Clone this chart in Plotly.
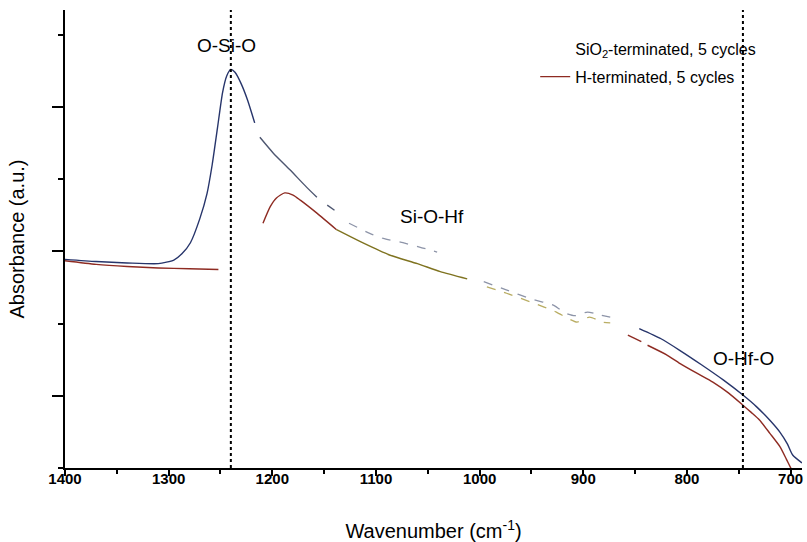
import plotly.graph_objects as go

# ---- data (wavenumber in cm-1, absorbance in a.u.) ----
# SiO2-terminated, 5 cycles
sio2_wn_a = [1400, 1370, 1340, 1310, 1295, 1287, 1279, 1270, 1263, 1258, 1253, 1248, 1244, 1240, 1236, 1230, 1224, 1217]
sio2_ab_a = [2.89, 2.86, 2.84, 2.83, 2.88, 2.97, 3.12, 3.45, 3.80, 4.20, 4.70, 5.20, 5.43, 5.52, 5.48, 5.32, 5.10, 4.78]
sio2_wn_b = [1212, 1199, 1183, 1167, 1157, None, 1147, 1140]
sio2_ab_b = [4.58, 4.36, 4.13, 3.89, 3.75, None, 3.64, 3.57]
sio2_wn_c = [1126, 1106, 1093, 1074, 1058, 1041, None, 996, 975, 950, 928, 918, 908, 896, 884, 874]
sio2_ab_c = [3.39, 3.25, 3.18, 3.12, 3.06, 2.99, None, 2.58, 2.47, 2.34, 2.25, 2.15, 2.11, 2.16, 2.12, 2.09]
sio2_wn_d = [846, 825, 807, 786, 765, 746, 733, 720, 710, 703, 698, 689]
sio2_ab_d = [1.93, 1.79, 1.63, 1.43, 1.22, 1.01, 0.85, 0.66, 0.49, 0.33, 0.18, 0.07]

# H-terminated, 5 cycles
h_wn_a = [1400, 1370, 1340, 1310, 1280, 1252]
h_ab_a = [2.87, 2.82, 2.79, 2.77, 2.76, 2.75]
h_wn_b = [1209, 1202, 1196, 1188, 1180, 1173, 1157, 1138]
h_ab_b = [3.39, 3.62, 3.74, 3.81, 3.78, 3.71, 3.53, 3.30]
h_wn_c = [1138, 1113, 1087, 1060, 1038, 1012]
h_ab_c = [3.30, 3.12, 2.95, 2.83, 2.72, 2.62]
h_wn_d = [993, 974, 949, 926, 916, 906, 894, 881, 874]
h_ab_d = [2.51, 2.42, 2.29, 2.16, 2.08, 2.02, 2.09, 2.02, 2.01]
h_wn_e = [857, 844, None, 838, 820, 807, 790, 775, 760, 746, 738, 730, 720, 710, 704, 698, 689]
h_ab_e = [1.84, 1.75, None, 1.70, 1.57, 1.45, 1.31, 1.19, 1.04, 0.87, 0.77, 0.665, 0.48, 0.29, 0.12, -0.05, -0.25]

peak_positions = [1240, 746]
peak_labels = ["O-Si-O", "Si-O-Hf", "O-Hf-O"]
label_wn = [1244, 1046, 745]
label_ab = [5.85, 3.49, 1.52]

x_range = [1400, 689]
y_range = [0, 6.343]

BLUE = "#27356b"
BLUE_FADED = "#8d94a8"
RED = "#8e2b22"
OLIVE = "#7f7320"
OLIVE_FADED = "#b9ad63"
FONT = "Liberation Sans, Arial, sans-serif"

fig = go.Figure()


def add_seg(x, y, color, width=1.4, dash="solid", group="a"):
    fig.add_trace(go.Scatter(
        x=x, y=y, mode="lines",
        line=dict(color=color, width=width, dash=dash, shape="spline", smoothing=0.6),
        connectgaps=False, showlegend=False, legendgroup=group,
        hoverinfo="skip"
    ))


# legend entries (first one has no visible line sample in the original)
fig.add_trace(go.Scatter(x=[None], y=[None], mode="lines",
                         line=dict(color="rgba(0,0,0,0)", width=1),
                         name="SiO<sub>2</sub>-terminated, 5 cycles", legendgroup="a"))
fig.add_trace(go.Scatter(x=[None], y=[None], mode="lines",
                         line=dict(color=RED, width=1.2),
                         name="H-terminated, 5 cycles", legendgroup="b"))

# H-terminated
add_seg(h_wn_a, h_ab_a, RED, group="b")
add_seg(h_wn_b, h_ab_b, RED, group="b")
add_seg(h_wn_c, h_ab_c, OLIVE, group="b")
add_seg(h_wn_d, h_ab_d, OLIVE_FADED, 1.3, "dash", group="b")
add_seg(h_wn_e, h_ab_e, RED, group="b")

# SiO2-terminated
add_seg(sio2_wn_a, sio2_ab_a, BLUE)
add_seg(sio2_wn_b, sio2_ab_b, "#4d5670")
add_seg(sio2_wn_c, sio2_ab_c, BLUE_FADED, 1.3, "dash")
add_seg(sio2_wn_d, sio2_ab_d, BLUE)

# dotted peak markers
for p in peak_positions:
    fig.add_vline(x=p, line=dict(color="black", width=2, dash="dot"))

for txt, xw, ya in zip(peak_labels, label_wn, label_ab):
    fig.add_annotation(x=xw, y=ya, text=txt, showarrow=False,
                       font=dict(family=FONT, size=19, color="black"))

fig.update_layout(
    width=807, height=542,
    margin=dict(l=65, r=5, t=10, b=74),
    plot_bgcolor="white", paper_bgcolor="white",
    legend=dict(x=0.638, y=0.952, xanchor="left", yanchor="top",
                font=dict(family=FONT, size=16, color="black"),
                traceorder="grouped", tracegroupgap=4,
                bgcolor="rgba(0,0,0,0)"),
    xaxis=dict(
        range=x_range, tickmode="linear", tick0=0, dtick=100, automargin=False,
        ticks="outside", ticklen=6, tickwidth=2, tickcolor="black",
        minor=dict(dtick=50, ticklen=4, tickwidth=2, ticks="outside", tickcolor="black"),
        showline=True, linewidth=2, linecolor="black",
        showgrid=False, zeroline=False,
        ticklabelstandoff=-10,
        tickfont=dict(family=FONT, size=15, color="black", weight="bold"),
        title=dict(text="Wavenumber (cm<sup>-1</sup>)",
                   font=dict(family=FONT, size=20, color="black"), standoff=38),
    ),
    xaxis2=dict(
        range=x_range, overlaying="x", side="top", anchor="y", automargin=False,
        tickmode="linear", tick0=1400, dtick=141.8,
        ticks="inside", ticklen=7, tickwidth=2, tickcolor="black",
        minor=dict(dtick=70.9, ticklen=4, tickwidth=2, ticks="inside", tickcolor="black"),
        showline=True, linewidth=2, linecolor="black",
        showgrid=False, zeroline=False, showticklabels=False,
    ),
    yaxis=dict(
        range=y_range, tickmode="linear", tick0=1, dtick=2, automargin=False,
        ticks="outside", ticklen=11, tickwidth=2, tickcolor="black",
        minor=dict(tick0=0, dtick=1, ticklen=5, tickwidth=2, ticks="outside", tickcolor="black"),
        showline=True, linewidth=2, linecolor="black",
        showgrid=False, zeroline=False, showticklabels=False,
        title=dict(text="Absorbance (a.u.)",
                   font=dict(family=FONT, size=20, color="black"), standoff=22),
    ),
    yaxis2=dict(
        range=y_range, overlaying="y", side="right", anchor="x", automargin=False,
        tickmode="linear", tick0=0.54, dtick=1.258,
        ticks="inside", ticklen=7, tickwidth=2, tickcolor="black",
        minor=dict(dtick=0.629, ticklen=4, tickwidth=2, ticks="inside", tickcolor="black"),
        showline=True, linewidth=2, linecolor="black",
        showgrid=False, zeroline=False, showticklabels=False,
    ),
)

# the page body has an 8px default margin; remove it so the figure fills the window
fig.write_html("out.html", config={"displayModeBar": False},
               post_script="document.body.style.margin='0px';")
